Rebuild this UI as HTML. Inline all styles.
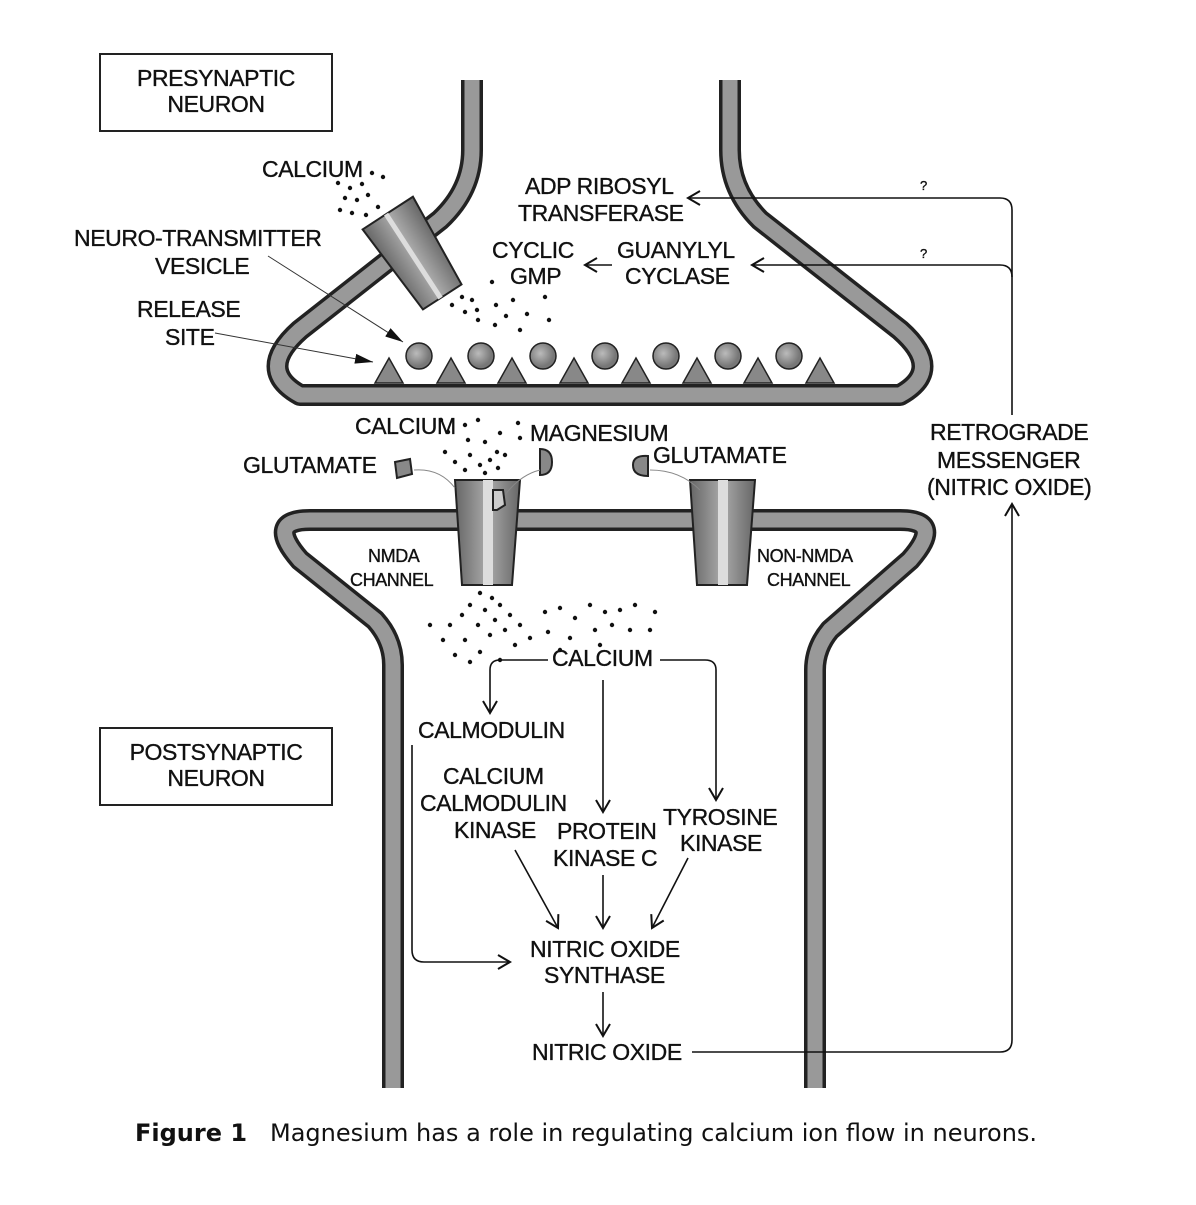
<!DOCTYPE html>
<html><head><style>
body{margin:0;background:#fff}
svg text{font-family:"Liberation Sans",sans-serif;font-size:23px;fill:#111;letter-spacing:-0.4px;stroke:#111;stroke-width:0.35px}
</style></head><body>
<svg width="1196" height="1200" viewBox="0 0 1196 1200" xmlns="http://www.w3.org/2000/svg">
<defs>
<marker id="a" markerWidth="16" markerHeight="16" refX="13" refY="8" orient="auto" markerUnits="userSpaceOnUse"><path d="M1,1 L13,8 L1,15" fill="none" stroke="#111" stroke-width="2"/></marker>
<marker id="t" markerWidth="20" markerHeight="14" refX="18" refY="7" orient="auto" markerUnits="userSpaceOnUse"><path d="M0,2 L18,7 L0,12z" fill="#111"/></marker>
<linearGradient id="g" x1="0" x2="1"><stop offset="0" stop-color="#666"/><stop offset="0.5" stop-color="#aaa"/><stop offset="1" stop-color="#666"/></linearGradient>
<radialGradient id="r" cx="0.4" cy="0.4"><stop offset="0" stop-color="#bbb"/><stop offset="1" stop-color="#777"/></radialGradient>
</defs>
<rect x="100" y="54" width="232" height="77" fill="none" stroke="#222" stroke-width="2"/>
<text x="216" y="86" text-anchor="middle">PRESYNAPTIC</text><text x="216" y="112" text-anchor="middle">NEURON</text>
<rect x="100" y="728" width="232" height="77" fill="none" stroke="#222" stroke-width="2"/>
<text x="216" y="760" text-anchor="middle">POSTSYNAPTIC</text><text x="216" y="786" text-anchor="middle">NEURON</text>
<g fill="none" stroke-linejoin="round">
<path d="M472,80 L472,150 Q472,190 440,220 L300,330 Q255,370 300,395 L900,395 Q945,370 900,330 L760,220 Q730,190 730,150 L730,80" stroke="#222" stroke-width="22"/>
<path d="M472,80 L472,150 Q472,190 440,220 L300,330 Q255,370 300,395 L900,395 Q945,370 900,330 L760,220 Q730,190 730,150 L730,80" stroke="#999" stroke-width="15"/>
<path d="M393,1088 L393,665 Q393,640 375,620 L300,560 Q265,520 310,520 L900,520 Q945,520 910,560 L830,630 Q815,648 815,670 L815,1088" stroke="#222" stroke-width="22"/>
<path d="M393,1088 L393,665 Q393,640 375,620 L300,560 Q265,520 310,520 L900,520 Q945,520 910,560 L830,630 Q815,648 815,670 L815,1088" stroke="#999" stroke-width="15"/>
</g>
<g transform="rotate(-33 415 255)">
<path d="M385,205 L445,205 L438,305 L392,305 Z" fill="url(#g)" stroke="#222" stroke-width="2"/>
<line x1="413" y1="205" x2="413" y2="305" stroke="#ddd" stroke-width="5"/>
</g>
<g stroke="#222" stroke-width="1.5">
<circle cx="419" cy="356" r="13" fill="url(#r)"/><circle cx="481" cy="356" r="13" fill="url(#r)"/><circle cx="543" cy="356" r="13" fill="url(#r)"/><circle cx="605" cy="356" r="13" fill="url(#r)"/><circle cx="666" cy="356" r="13" fill="url(#r)"/><circle cx="728" cy="356" r="13" fill="url(#r)"/><circle cx="789" cy="356" r="13" fill="url(#r)"/>
<g fill="#888">
<path d="M375,383 L389,358 L403,383Z"/><path d="M437,383 L451,358 L465,383Z"/><path d="M498,383 L512,358 L526,383Z"/><path d="M560,383 L574,358 L588,383Z"/><path d="M622,383 L636,358 L650,383Z"/><path d="M683,383 L697,358 L711,383Z"/><path d="M744,383 L758,358 L772,383Z"/><path d="M806,383 L820,358 L834,383Z"/>
</g></g>
<g stroke="#222" stroke-width="2">
<path d="M455,480 L520,480 L512,585 L462,585 Z" fill="url(#g)"/>
<rect x="483" y="480" width="10" height="105" fill="#ddd" stroke="none"/>
<path d="M493,490 L503,490 L505,505 L497,510 L493,510Z" fill="#ccc"/>
<path d="M690,480 L755,480 L747,585 L697,585 Z" fill="url(#g)"/>
<rect x="718" y="480" width="10" height="105" fill="#ddd" stroke="none"/>
<path d="M395,462 L410,459 L412,474 L397,478Z" fill="#888"/>
<path d="M540,449 Q552,449 552,462 Q552,475 540,475Z" fill="#888"/>
<path d="M633,465 Q633,455 648,456 L648,476 Q633,476 633,465Z" fill="#888"/>
</g>
<g stroke="#888" fill="none" stroke-width="1"><path d="M414,470 Q440,468 455,488"/><path d="M540,470 Q520,475 505,495"/><path d="M650,470 Q680,470 700,490"/></g>
<g fill="#111">
<circle cx="338" cy="183" r="2.2"/><circle cx="350" cy="188" r="2.2"/><circle cx="362" cy="184" r="2.2"/><circle cx="345" cy="198" r="2.2"/><circle cx="357" cy="200" r="2.2"/><circle cx="368" cy="195" r="2.2"/><circle cx="340" cy="210" r="2.2"/><circle cx="352" cy="213" r="2.2"/><circle cx="372" cy="173" r="2.2"/><circle cx="383" cy="177" r="2.2"/><circle cx="378" cy="207" r="2.2"/><circle cx="366" cy="215" r="2.2"/>
<circle cx="462" cy="297" r="2.2"/><circle cx="472" cy="300" r="2.2"/><circle cx="452" cy="305" r="2.2"/><circle cx="465" cy="312" r="2.2"/><circle cx="477" cy="310" r="2.2"/><circle cx="492" cy="282" r="2.2"/><circle cx="478" cy="320" r="2.2"/><circle cx="496" cy="305" r="2.2"/><circle cx="506" cy="316" r="2.2"/><circle cx="513" cy="300" r="2.2"/><circle cx="495" cy="325" r="2.2"/><circle cx="520" cy="330" r="2.2"/><circle cx="527" cy="314" r="2.2"/><circle cx="545" cy="297" r="2.2"/><circle cx="549" cy="320" r="2.2"/>
<circle cx="441" cy="420" r="2.2"/><circle cx="465" cy="425" r="2.2"/><circle cx="478" cy="420" r="2.2"/><circle cx="448" cy="432" r="2.2"/><circle cx="468" cy="440" r="2.2"/><circle cx="485" cy="442" r="2.2"/><circle cx="500" cy="433" r="2.2"/><circle cx="518" cy="423" r="2.2"/><circle cx="520" cy="438" r="2.2"/><circle cx="497" cy="452" r="2.2"/><circle cx="445" cy="452" r="2.2"/><circle cx="455" cy="462" r="2.2"/><circle cx="470" cy="455" r="2.2"/><circle cx="480" cy="465" r="2.2"/><circle cx="490" cy="460" r="2.2"/><circle cx="465" cy="470" r="2.2"/><circle cx="485" cy="473" r="2.2"/><circle cx="498" cy="468" r="2.2"/><circle cx="505" cy="455" r="2.2"/>
<circle cx="480" cy="593" r="2.2"/><circle cx="492" cy="598" r="2.2"/><circle cx="470" cy="605" r="2.2"/><circle cx="485" cy="610" r="2.2"/><circle cx="500" cy="605" r="2.2"/><circle cx="510" cy="615" r="2.2"/><circle cx="495" cy="620" r="2.2"/><circle cx="478" cy="625" r="2.2"/><circle cx="462" cy="615" r="2.2"/><circle cx="450" cy="625" r="2.2"/><circle cx="430" cy="625" r="2.2"/><circle cx="443" cy="640" r="2.2"/><circle cx="465" cy="640" r="2.2"/><circle cx="490" cy="635" r="2.2"/><circle cx="505" cy="630" r="2.2"/><circle cx="520" cy="625" r="2.2"/><circle cx="530" cy="638" r="2.2"/><circle cx="515" cy="645" r="2.2"/><circle cx="545" cy="612" r="2.2"/><circle cx="560" cy="608" r="2.2"/><circle cx="575" cy="618" r="2.2"/><circle cx="590" cy="605" r="2.2"/><circle cx="605" cy="612" r="2.2"/><circle cx="620" cy="610" r="2.2"/><circle cx="635" cy="605" r="2.2"/><circle cx="655" cy="612" r="2.2"/><circle cx="548" cy="632" r="2.2"/><circle cx="570" cy="638" r="2.2"/><circle cx="595" cy="630" r="2.2"/><circle cx="612" cy="625" r="2.2"/><circle cx="630" cy="630" r="2.2"/><circle cx="650" cy="630" r="2.2"/><circle cx="455" cy="655" r="2.2"/><circle cx="480" cy="652" r="2.2"/><circle cx="500" cy="660" r="2.2"/><circle cx="560" cy="650" r="2.2"/><circle cx="600" cy="645" r="2.2"/><circle cx="470" cy="662" r="2.2"/>
</g>
<text x="262" y="177">CALCIUM</text>
<text x="74" y="246">NEURO-TRANSMITTER</text><text x="155" y="274">VESICLE</text>
<text x="137" y="317">RELEASE</text><text x="165" y="345">SITE</text>
<line x1="268" y1="256" x2="403" y2="342" stroke="#333" stroke-width="1" marker-end="url(#t)"/>
<line x1="215" y1="333" x2="373" y2="362" stroke="#333" stroke-width="1" marker-end="url(#t)"/>
<text x="525" y="194">ADP RIBOSYL</text><text x="518" y="221">TRANSFERASE</text>
<text x="492" y="258">CYCLIC</text><text x="510" y="284">GMP</text>
<text x="617" y="258">GUANYLYL</text><text x="625" y="284">CYCLASE</text>
<text x="355" y="434">CALCIUM</text><text x="530" y="441">MAGNESIUM</text>
<text x="243" y="473">GLUTAMATE</text><text x="653" y="463">GLUTAMATE</text>
<text x="368" y="562" style="font-size:18px">NMDA</text><text x="350" y="586" style="font-size:18px">CHANNEL</text>
<text x="757" y="562" style="font-size:18px">NON-NMDA</text><text x="767" y="586" style="font-size:18px">CHANNEL</text>
<text x="930" y="440">RETROGRADE</text><text x="937" y="468">MESSENGER</text><text x="927" y="495">(NITRIC OXIDE)</text>
<text x="920" y="190" style="font-size:13px">?</text><text x="920" y="258" style="font-size:13px">?</text>
<text x="552" y="666">CALCIUM</text>
<text x="418" y="738">CALMODULIN</text>
<text x="443" y="784">CALCIUM</text><text x="420" y="811">CALMODULIN</text><text x="454" y="838">KINASE</text>
<text x="557" y="839">PROTEIN</text><text x="553" y="866">KINASE C</text>
<text x="663" y="825">TYROSINE</text><text x="680" y="851">KINASE</text>
<text x="530" y="957">NITRIC OXIDE</text><text x="544" y="983">SYNTHASE</text>
<text x="532" y="1060">NITRIC OXIDE</text>
<g fill="none" stroke="#111" stroke-width="1.6">
<path d="M1012,415 L1012,210 Q1012,198 1000,198 L688,198" marker-end="url(#a)"/>
<path d="M1000,265 Q1012,265 1012,277"/>
<line x1="1000" y1="265" x2="752" y2="265" marker-end="url(#a)"/>
<line x1="612" y1="265" x2="585" y2="265" marker-end="url(#a)"/>
<path d="M548,660 L500,660 Q490,660 490,670 L490,713" marker-end="url(#a)"/>
<path d="M660,660 L705,660 Q716,660 716,670 L716,800" marker-end="url(#a)"/>
<line x1="603" y1="680" x2="603" y2="812" marker-end="url(#a)"/>
<path d="M412,745 L412,950 Q412,962 424,962 L510,962" marker-end="url(#a)"/>
<line x1="515" y1="850" x2="558" y2="928" marker-end="url(#a)"/>
<line x1="603" y1="875" x2="603" y2="928" marker-end="url(#a)"/>
<line x1="688" y1="858" x2="652" y2="928" marker-end="url(#a)"/>
<line x1="603" y1="992" x2="603" y2="1036" marker-end="url(#a)"/>
<path d="M692,1052 L1000,1052 Q1012,1052 1012,1040 L1012,504" marker-end="url(#a)"/>
</g>
<text x="135" y="1141" style="font-family:'DejaVu Sans',sans-serif;font-size:24px;font-weight:bold;letter-spacing:0;stroke:none">Figure 1</text>
<text x="270" y="1141" style="font-family:'DejaVu Sans',sans-serif;font-size:24px;letter-spacing:0;stroke:none">Magnesium has a role in regulating calcium ion flow in neurons.</text>
</svg>
</body></html>
